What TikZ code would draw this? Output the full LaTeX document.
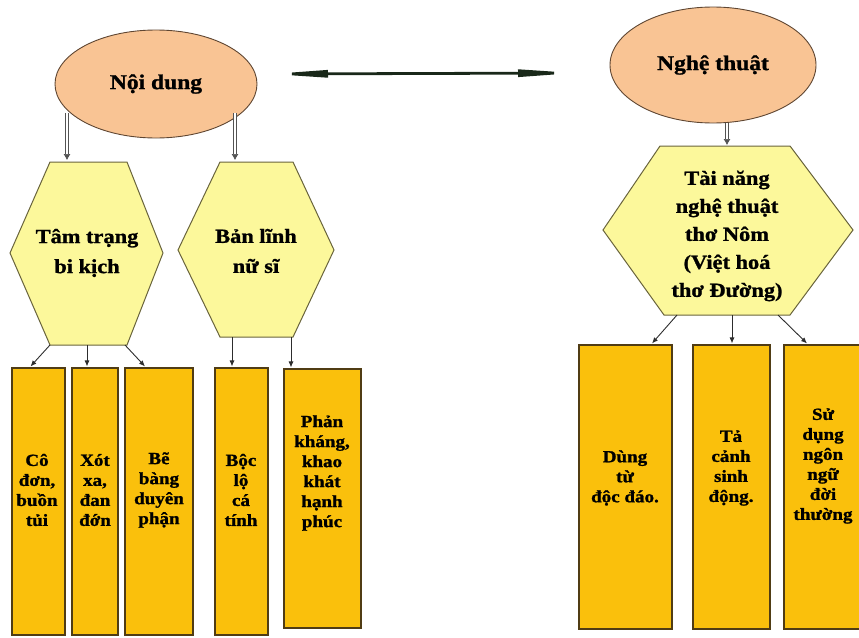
\documentclass[tikz,border=0pt]{standalone}
\usepackage{fontspec}
\setmainfont{Liberation Serif}[FakeStretch=1.12,BoldFeatures={FakeStretch=1.12,FakeBold=1.2}]
\usetikzlibrary{shapes.geometric,arrows.meta,calc}
\definecolor{peach}{RGB}{249,196,148}
\definecolor{ellline}{RGB}{95,70,50}
\definecolor{hexfill}{RGB}{252,248,155}
\definecolor{hexline}{RGB}{105,100,60}
\definecolor{boxfill}{RGB}{250,192,12}
\definecolor{boxline}{RGB}{80,60,20}
\definecolor{bigarrow}{RGB}{25,40,25}
\definecolor{smallarrow}{RGB}{45,45,45}
\tikzset{
  ell/.style={ellipse,draw=ellline,line width=0.9pt,fill=peach,font=\bfseries\fontsize{21}{24}\selectfont,inner sep=0pt},
  hexshape/.style={draw=hexline,line width=1pt,fill=hexfill},
  hextext/.style={font=\bfseries\fontsize{20}{30}\selectfont,align=center,inner sep=0pt},
  boxrect/.style={rectangle,draw=boxline,line width=1.1pt,fill=boxfill,inner sep=0pt},
  boxtext/.style={font=\bfseries\fontsize{17}{20}\selectfont,align=center,inner sep=0pt},
  thinarrow/.style={draw=smallarrow,line width=0.9pt,-{Latex[length=6pt,width=5pt]}},
  hollowarrow/.style={draw=gray!65!black,line width=0.6pt,double=white,double distance=2.4pt,-{Latex[length=6pt,width=7pt]}},
  duoarrow/.style={draw=bigarrow,line width=2.8pt,{Triangle[length=60pt,width=7pt]}-{Triangle[length=60pt,width=7pt]}}
}
\begin{document}
\begin{tikzpicture}[x=1pt,y=-1pt]
\useasboundingbox (0,0) rectangle (859,637);
% ellipses
\node[ell,minimum width=202pt,minimum height=108pt] (nd) at (156,84) {Nội dung};
\node[ell,minimum width=206pt,minimum height=116pt] (nt) at (713,65) {Nghệ thuật};
% double arrow
\coordinate (da1) at (268,74);
\coordinate (da2) at (578,73);
\draw[duoarrow] (da1) -- (da2);
% hexagons
\filldraw[hexshape] (50,162) -- (127,162) -- (163,253) -- (127,345) -- (50,345) -- (10,253) -- cycle;
\filldraw[hexshape] (220,162) -- (293,162) -- (334,250) -- (293,337) -- (220,337) -- (178,250) -- cycle;
\filldraw[hexshape] (660,146) -- (790,146) -- (853,230) -- (790,315) -- (664,315) -- (603,230) -- cycle;
\node[hextext] (h1) at (87,253) {Tâm trạng\\bi kịch};
\node[hextext] (h2) at (256,251) {Bản lĩnh\\nữ sĩ};
\node[hextext,font=\bfseries\fontsize{20}{28}\selectfont] (h3) at (727,236) {Tài năng\\nghệ thuật\\thơ Nôm\\(Việt hoá\\thơ Đường)};
\coordinate (h1top) at (67,160); \coordinate (h2top) at (235,160); \coordinate (h3top) at (727,145);
\coordinate (ha1s) at (67,113); \coordinate (ha2s) at (235,113); \coordinate (ha3s) at (727,123);
\coordinate (h1b1) at (50,345); \coordinate (h1b2) at (87,345); \coordinate (h1b3) at (125,345);
\coordinate (h2b1) at (232,337); \coordinate (h2b2) at (291,337);
\coordinate (h3b1) at (677,315); \coordinate (h3b2) at (732,315); \coordinate (h3b3) at (778,315);
% hollow arrows
\draw[hollowarrow] (ha1s) -- (h1top);
\draw[hollowarrow] (ha2s) -- (h2top);
\draw[hollowarrow] (ha3s) -- (h3top);
% boxes
\node[boxrect,minimum width=53pt,minimum height=267pt] (b1) at (38.5,501.5) {};
\node[boxrect,minimum width=46pt,minimum height=267pt] (b2) at (95,501.5) {};
\node[boxrect,minimum width=68pt,minimum height=267pt] (b3) at (159,501.5) {};
\node[boxrect,minimum width=53pt,minimum height=267pt] (b4) at (241.5,501.5) {};
\node[boxrect,minimum width=77pt,minimum height=259pt] (b5) at (322.5,498.5) {};
\node[boxrect,minimum width=93pt,minimum height=284pt] (b6) at (625.5,487) {};
\node[boxrect,minimum width=77pt,minimum height=284pt] (b7) at (731.5,487) {};
\node[boxrect,minimum width=78pt,minimum height=284pt] (b8) at (823,487) {};
\node[boxtext] (t1) at (37,490) {Cô\\đơn,\\buồn\\tủi};
\node[boxtext] (t2) at (95,490) {Xót\\xa,\\đan\\đớn};
\node[boxtext] (t3) at (159,490) {Bẽ\\bàng\\duyên\\phận};
\node[boxtext] (t4) at (241,490) {Bộc\\lộ\\cá\\tính};
\node[boxtext] (t5) at (322,473) {Phản\\kháng,\\khao\\khát\\hạnh\\phúc};
\node[boxtext] (t6) at (625,478) {Dùng\\từ\\độc đáo.};
\node[boxtext] (t7) at (731,468) {Tả\\cảnh\\sinh\\động.};
\node[boxtext] (t8) at (823,466) {Sử\\dụng\\ngôn\\ngữ\\đời\\thường};
% thin arrows
\draw[thinarrow] (h1b1) -- ($(b1.north)+(-8,-1)$);
\draw[thinarrow] (h1b2) -- ($(b2.north)+(-8,-1)$);
\draw[thinarrow] (h1b3) -- ($(b3.north)+(-14,-1)$);
\draw[thinarrow] (h2b1) -- ($(b4.north)+(-9.5,-1)$);
\draw[thinarrow] (h2b2) -- ($(b5.north)+(-31.5,-1)$);
\draw[thinarrow] (h3b1) -- ($(b6.north)+(26.5,-1)$);
\draw[thinarrow] (h3b2) -- ($(b7.north)+(0.5,-1)$);
\draw[thinarrow] (h3b3) -- ($(b8.north)+(-16,-1)$);
\end{tikzpicture}
\end{document}
